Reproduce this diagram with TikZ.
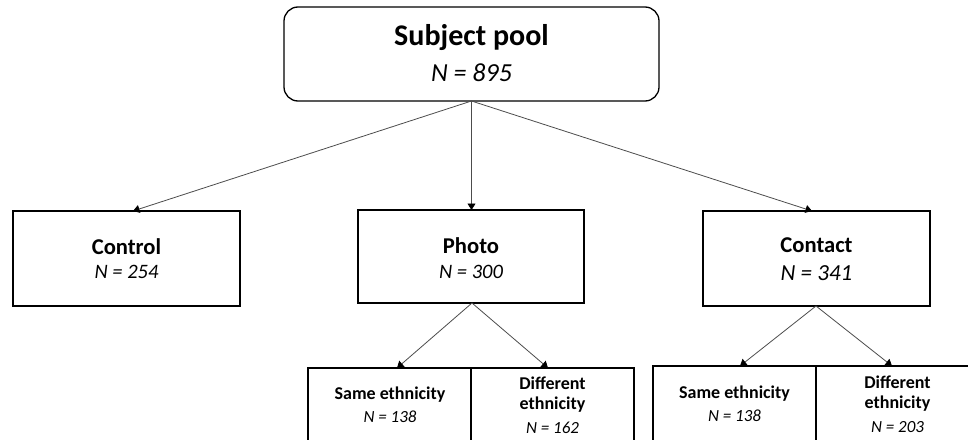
\documentclass[tikz,border=0pt]{standalone}
\usepackage{fontspec}
\setmainfont{Carlito}
\usetikzlibrary{arrows.meta}
\begin{document}
\begin{tikzpicture}[x=1pt,y=-1pt,
  box/.style={draw=black,line width=1.3pt,inner sep=0pt,outer sep=0pt},
  conn/.style={draw=black!70,line width=0.8pt,-{Triangle[width=8pt,length=6.5pt,color=black]}},
  big/.style={font=\fontsize{30}{34}\selectfont\bfseries},
  bign/.style={font=\fontsize{26}{30}\selectfont\itshape},
  mid/.style={font=\fontsize{22.6}{26}\selectfont\bfseries},
  midn/.style={font=\fontsize{20.5}{24}\selectfont\itshape},
  midnl/.style={font=\fontsize{23}{26}\selectfont\itshape},
  sml/.style={font=\fontsize{18}{21}\selectfont\bfseries},
  smln/.style={font=\fontsize{17}{20}\selectfont\itshape}]
\useasboundingbox (0,0) rectangle (968,439);
\clip (0,0) rectangle (968,439);
% boxes
\draw[box,rounded corners=14pt] (284,7) rectangle (659,101);
\coordinate (poolB) at (471.5,101);
\node[big] (pooltitle) at (471.5,38) {Subject pool};
\node[bign] (pooln) at (471.5,73) {N = 895};

\draw[box] (13,211) rectangle (240,306);
\coordinate (ctrlT) at (133,211);
\node[mid] (ctrltitle) at (126.5,247) {Control};
\node[midn] (ctrln) at (126.5,272) {N = 254};

\draw[box] (358,210) rectangle (584,303);
\coordinate (photoT) at (471.5,210);
\coordinate (photoB) at (472,303);
\node[mid] (phototitle) at (471,246) {Photo};
\node[midn] (photon) at (471,272) {N = 300};

\draw[box] (703,211) rectangle (930,306);
\coordinate (contT) at (812,211);
\coordinate (contB) at (816,306);
\node[mid] (conttitle) at (816.5,245) {Contact};
\node[midnl] (contn) at (816.5,273) {N = 341};

% sub boxes
\draw[box] (308,368) rectangle (634,450);
\draw[box] (471,368) -- (471,450);
\coordinate (psameT) at (397,368);
\coordinate (pdiffT) at (548,368);
\node[sml] (psame) at (390,395) {Same ethnicity};
\node[smln] (psamen) at (390,417) {N = 138};
\node[sml] (pdiff1) at (552.5,383) {Different};
\node[sml] (pdiff2) at (552.5,405) {ethnicity};
\node[smln] (pdiffn) at (552.5,428) {N = 162};

\draw[box] (653,366) rectangle (979,450);
\draw[box] (816,366) -- (816,450);
\coordinate (csameT) at (740,366);
\coordinate (cdiffT) at (892,366);
\node[sml] (csame) at (734.5,394) {Same ethnicity};
\node[smln] (csamen) at (734.5,416) {N = 138};
\node[sml] (cdiff1) at (897.5,382) {Different};
\node[sml] (cdiff2) at (897.5,404) {ethnicity};
\node[smln] (cdiffn) at (897.5,427) {N = 203};

% connectors
\draw[conn] (poolB) -- (ctrlT);
\draw[conn] (poolB) -- (photoT);
\draw[conn] (poolB) -- (contT);
\draw[conn] (photoB) -- (psameT);
\draw[conn] (photoB) -- (pdiffT);
\draw[conn] (contB) -- (csameT);
\draw[conn] (contB) -- (cdiffT);
\end{tikzpicture}
\end{document}
